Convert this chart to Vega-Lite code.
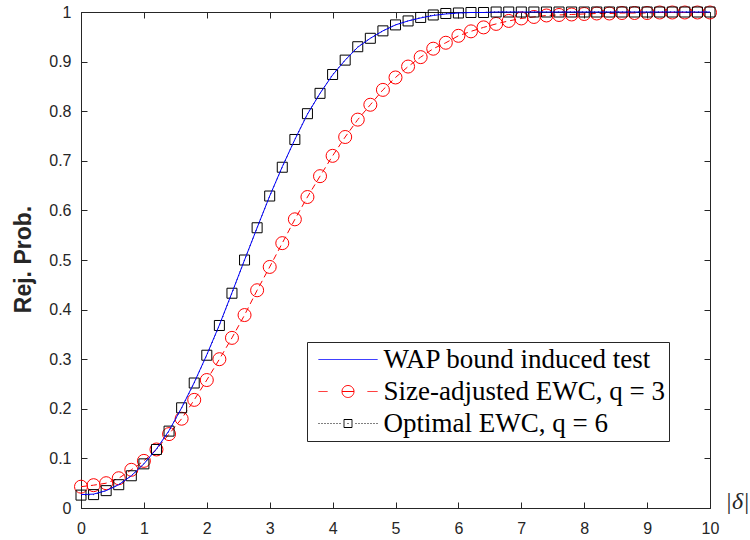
{
  "$schema": "https://vega.github.io/schema/vega-lite/v6.json",
  "width": 629,
  "height": 496,
  "autosize": {"type": "none"},
  "padding": {"left": 81, "top": 12, "right": 40, "bottom": 32},
  "background": "white",
  "config": {
    "view": {"stroke": "#262626", "strokeWidth": 1},
    "axis": {
      "grid": false,
      "domainColor": "#262626",
      "tickColor": "#262626",
      "labelColor": "#262626",
      "titleColor": "#262626",
      "labelFont": "Liberation Sans",
      "labelFontSize": 16,
      "tickSize": -6,
      "tickWidth": 1,
      "domainWidth": 1,
      "labelFlush": false,
      "labelOverlap": false
    }
  },
  "datasets": {
    "wap": [
      {"d": 0, "p": 0.027}, {"d": 0.2, "p": 0.028}, {"d": 0.4, "p": 0.035}, {"d": 0.6, "p": 0.047}, {"d": 0.8, "p": 0.065},
      {"d": 1, "p": 0.089}, {"d": 1.2, "p": 0.119}, {"d": 1.4, "p": 0.156}, {"d": 1.6, "p": 0.202}, {"d": 1.8, "p": 0.253},
      {"d": 2, "p": 0.309}, {"d": 2.2, "p": 0.369}, {"d": 2.4, "p": 0.434}, {"d": 2.6, "p": 0.5}, {"d": 2.8, "p": 0.565},
      {"d": 3, "p": 0.629}, {"d": 3.2, "p": 0.688}, {"d": 3.4, "p": 0.743}, {"d": 3.6, "p": 0.794}, {"d": 3.8, "p": 0.836},
      {"d": 4, "p": 0.873}, {"d": 4.2, "p": 0.903}, {"d": 4.4, "p": 0.929}, {"d": 4.6, "p": 0.947}, {"d": 4.8, "p": 0.962},
      {"d": 5, "p": 0.974}, {"d": 5.2, "p": 0.982}, {"d": 5.4, "p": 0.988}, {"d": 5.6, "p": 0.993}, {"d": 5.8, "p": 0.996},
      {"d": 6, "p": 0.998}, {"d": 6.2, "p": 0.999}, {"d": 6.4, "p": 0.999}, {"d": 6.6, "p": 1}, {"d": 6.8, "p": 1},
      {"d": 7, "p": 1}, {"d": 7.2, "p": 1}, {"d": 7.4, "p": 1}, {"d": 7.6, "p": 1}, {"d": 7.8, "p": 1},
      {"d": 8, "p": 1}, {"d": 8.2, "p": 1}, {"d": 8.4, "p": 1}, {"d": 8.6, "p": 1}, {"d": 8.8, "p": 1},
      {"d": 9, "p": 1}, {"d": 9.2, "p": 1}, {"d": 9.4, "p": 1}, {"d": 9.6, "p": 1}, {"d": 9.8, "p": 1},
      {"d": 10, "p": 1}
    ],
    "sa": [
      {"d": 0, "p": 0.043}, {"d": 0.2, "p": 0.046}, {"d": 0.4, "p": 0.05}, {"d": 0.6, "p": 0.06}, {"d": 0.8, "p": 0.077},
      {"d": 1, "p": 0.095}, {"d": 1.2, "p": 0.118}, {"d": 1.4, "p": 0.149}, {"d": 1.6, "p": 0.18}, {"d": 1.8, "p": 0.218},
      {"d": 2, "p": 0.258}, {"d": 2.2, "p": 0.3}, {"d": 2.4, "p": 0.343}, {"d": 2.6, "p": 0.389}, {"d": 2.8, "p": 0.439},
      {"d": 3, "p": 0.486}, {"d": 3.2, "p": 0.534}, {"d": 3.4, "p": 0.582}, {"d": 3.6, "p": 0.627}, {"d": 3.8, "p": 0.669},
      {"d": 4, "p": 0.71}, {"d": 4.2, "p": 0.748}, {"d": 4.4, "p": 0.783}, {"d": 4.6, "p": 0.813}, {"d": 4.8, "p": 0.843},
      {"d": 5, "p": 0.868}, {"d": 5.2, "p": 0.89}, {"d": 5.4, "p": 0.909}, {"d": 5.6, "p": 0.926}, {"d": 5.8, "p": 0.938},
      {"d": 6, "p": 0.952}, {"d": 6.2, "p": 0.961}, {"d": 6.4, "p": 0.969}, {"d": 6.6, "p": 0.976}, {"d": 6.8, "p": 0.982},
      {"d": 7, "p": 0.987}, {"d": 7.2, "p": 0.99}, {"d": 7.4, "p": 0.993}, {"d": 7.6, "p": 0.994}, {"d": 7.8, "p": 0.995},
      {"d": 8, "p": 0.996}, {"d": 8.2, "p": 0.997}, {"d": 8.4, "p": 0.997}, {"d": 8.6, "p": 0.998}, {"d": 8.8, "p": 0.998},
      {"d": 9, "p": 0.998}, {"d": 9.2, "p": 0.999}, {"d": 9.4, "p": 0.999}, {"d": 9.6, "p": 0.999}, {"d": 9.8, "p": 0.999},
      {"d": 10, "p": 0.999}
    ],
    "opt": [
      {"d": 0, "p": 0.026}, {"d": 0.2, "p": 0.027}, {"d": 0.4, "p": 0.035}, {"d": 0.6, "p": 0.047}, {"d": 0.8, "p": 0.065},
      {"d": 1, "p": 0.089}, {"d": 1.2, "p": 0.118}, {"d": 1.4, "p": 0.155}, {"d": 1.6, "p": 0.202}, {"d": 1.8, "p": 0.252},
      {"d": 2, "p": 0.308}, {"d": 2.2, "p": 0.368}, {"d": 2.4, "p": 0.433}, {"d": 2.6, "p": 0.5}, {"d": 2.8, "p": 0.565},
      {"d": 3, "p": 0.629}, {"d": 3.2, "p": 0.687}, {"d": 3.4, "p": 0.743}, {"d": 3.6, "p": 0.795}, {"d": 3.8, "p": 0.836},
      {"d": 4, "p": 0.874}, {"d": 4.2, "p": 0.903}, {"d": 4.4, "p": 0.93}, {"d": 4.6, "p": 0.947}, {"d": 4.8, "p": 0.962},
      {"d": 5, "p": 0.974}, {"d": 5.2, "p": 0.982}, {"d": 5.4, "p": 0.989}, {"d": 5.6, "p": 0.994}, {"d": 5.8, "p": 0.997},
      {"d": 6, "p": 0.998}, {"d": 6.2, "p": 0.999}, {"d": 6.4, "p": 0.999}, {"d": 6.6, "p": 1}, {"d": 6.8, "p": 1},
      {"d": 7, "p": 1}, {"d": 7.2, "p": 1}, {"d": 7.4, "p": 1}, {"d": 7.6, "p": 1}, {"d": 7.8, "p": 1},
      {"d": 8, "p": 1}, {"d": 8.2, "p": 1}, {"d": 8.4, "p": 1}, {"d": 8.6, "p": 1}, {"d": 8.8, "p": 1},
      {"d": 9, "p": 1}, {"d": 9.2, "p": 1}, {"d": 9.4, "p": 1}, {"d": 9.6, "p": 1}, {"d": 9.8, "p": 1},
      {"d": 10, "p": 1}
    ]
  },
  "layer": [
    {
      "data": {"name": "sa"},
      "mark": {"type": "line", "strokeDash": [6, 4], "strokeWidth": 1},
      "encoding": {
        "x": {
          "field": "d", "type": "quantitative",
          "scale": {"domain": [0, 10], "nice": false, "zero": false},
          "axis": {
            "orient": "bottom",
            "values": [0, 1, 2, 3, 4, 5, 6, 7, 8, 9, 10],
            "format": "d",
            "labelPadding": 18,
            "title": "|δ|",
            "titleFont": "Liberation Serif",
            "titleFontStyle": "italic",
            "titleFontWeight": "normal",
            "titleFontSize": 24,
            "titleColor": "#262626",
            "titleX": 656,
            "titleY": 0,
            "titleAlign": "center",
            "titleBaseline": "alphabetic",
            "titleAnchor": "start"
          }
        },
        "y": {
          "field": "p", "type": "quantitative",
          "scale": {"domain": [0, 1], "nice": false, "zero": false},
          "axis": {
            "orient": "left",
            "values": [0, 0.1, 0.2, 0.3, 0.4, 0.5, 0.6, 0.7, 0.8, 0.9, 1],
            "format": "~g",
            "labelPadding": 16,
            "title": "Rej. Prob.",
            "titleFont": "Liberation Sans",
            "titleFontWeight": "bold",
            "titleFontSize": 23,
            "titleAngle": -90,
            "titleX": -51,
            "titleY": 247,
            "titleAlign": "center",
            "titleBaseline": "alphabetic",
            "titleAnchor": "start"
          }
        },
        "color": {
          "datum": "Size-adjusted EWC, q = 3",
          "scale": {
            "domain": ["WAP bound induced test", "Size-adjusted EWC, q = 3", "Optimal EWC, q = 6"],
            "range": ["#0000FF", "#FF0000", "#000000"]
          },
          "legend": {
            "orient": "none",
            "legendX": 226,
            "legendY": 330,
            "title": null,
            "padding": 4,
            "strokeColor": "#262626",
            "fillColor": "white",
            "labelFont": "Liberation Serif",
            "labelFontSize": 27,
            "labelColor": "#000000",
            "labelLimit": 500,
            "labelOffset": 22,
            "symbolOffset": 23.5,
            "symbolSize": 400,
            "symbolStrokeWidth": 1,
            "rowPadding": 4,
            "encode": {
              "symbols": {
                "update": {
                  "shape": {"signal": "datum.value === 'WAP bound induced test' ? 'M-2.95,0H2.95' : (datum.value === 'Size-adjusted EWC, q = 3' ? 'M-2.95,0H-2.05M-0.6,0H0.6M0.6,0A0.6,0.6,0,1,1,-0.6,0A0.6,0.6,0,1,1,0.6,0M1.95,0H2.95' : 'M-2.95,0h0.1M-2.65,0h0.1M-2.35,0h0.1M-2.05,0h0.1M-1.75,0h0.1M-1.45,0h0.1M-1.15,0h0.1M-0.85,0h0.1M-0.4,-0.4H0.4V0.4H-0.4ZM-0.05,0h0.1M0.75,0h0.1M1.05,0h0.1M1.35,0h0.1M1.65,0h0.1M1.95,0h0.1M2.25,0h0.1M2.55,0h0.1M2.85,0h0.1')"},
                  "strokeDash": {"value": [1, 0]},
                  "fill": {"value": "transparent"},
                  "opacity": {"value": 1},
                  "strokeWidth": {"value": 1}
                }
              }
            }
          }
        }
      }
    },
    {
      "data": {"name": "sa"},
      "mark": {"type": "point", "shape": "circle", "size": 169, "filled": false, "color": "#FF0000", "strokeWidth": 1, "opacity": 1},
      "encoding": {
        "x": {"field": "d", "type": "quantitative", "axis": null},
        "y": {"field": "p", "type": "quantitative", "axis": null}
      }
    },
    {
      "data": {"name": "opt"},
      "mark": {"type": "line", "strokeDash": [1, 3], "strokeWidth": 1},
      "encoding": {
        "x": {"field": "d", "type": "quantitative", "axis": null},
        "y": {"field": "p", "type": "quantitative", "axis": null},
        "color": {"datum": "Optimal EWC, q = 6"}
      }
    },
    {
      "data": {"name": "opt"},
      "mark": {"type": "point", "shape": "square", "size": 100, "filled": false, "color": "#000000", "strokeWidth": 1, "opacity": 1},
      "encoding": {
        "x": {
          "field": "d", "type": "quantitative",
          "axis": {"orient": "top", "labels": false, "title": null, "domain": false, "values": [0, 1, 2, 3, 4, 5, 6, 7, 8, 9, 10]}
        },
        "y": {
          "field": "p", "type": "quantitative",
          "axis": {"orient": "right", "labels": false, "title": null, "domain": false, "values": [0, 0.1, 0.2, 0.3, 0.4, 0.5, 0.6, 0.7, 0.8, 0.9, 1]}
        }
      }
    },
    {
      "data": {"name": "wap"},
      "mark": {"type": "line", "strokeWidth": 1},
      "encoding": {
        "x": {"field": "d", "type": "quantitative", "axis": null},
        "y": {"field": "p", "type": "quantitative", "axis": null},
        "color": {"datum": "WAP bound induced test"}
      }
    }
  ],
  "resolve": {"axis": {"x": "independent", "y": "independent"}}
}
